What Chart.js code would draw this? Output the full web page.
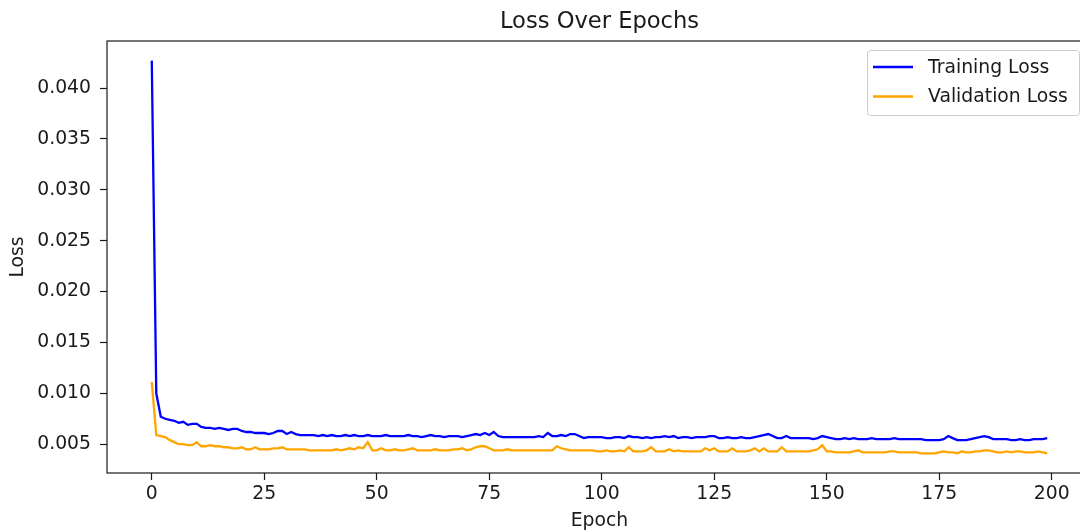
<!DOCTYPE html>
<html>
<head>
<meta charset="utf-8">
<script src="https://cdn.jsdelivr.net/npm/chart.js@4"></script>
<style>
  html,body{margin:0;padding:0;background:#fff;overflow:hidden;}
  #wrap{width:1080px;height:531px;overflow:hidden;position:relative;}
  #wrap canvas{position:absolute;left:0;top:0;}
</style>
</head>
<body>
<div id="wrap"><canvas id="ch" width="1100" height="531"></canvas></div>
<script>
const titleText = 'Loss Over Epochs';
const xLabel = 'Epoch';
const yLabel = 'Loss';
const seriesNames = ['Training Loss', 'Validation Loss'];
const seriesColors = ['#0000ff', '#ffa500'];
const xTicks = [0, 25, 50, 75, 100, 125, 150, 175, 200];
const yTicks = [0.005, 0.010, 0.015, 0.020, 0.025, 0.030, 0.035, 0.040];

const trainLoss = [
  0.0427, 0.0100, 0.0077, 0.0075, 0.0074, 0.0073, 0.0071, 0.0072, 0.0069, 0.0070,
  0.0070, 0.0067, 0.0066, 0.0066, 0.0065, 0.0066, 0.0065, 0.0064, 0.0065, 0.0065,
  0.0063, 0.0062, 0.0062, 0.0061, 0.0061, 0.0061, 0.0060, 0.0061, 0.0063, 0.0063,
  0.0060, 0.0062, 0.0060, 0.0059, 0.0059, 0.0059, 0.0059, 0.0058, 0.0059, 0.0058,
  0.0059, 0.0058, 0.0058, 0.0059, 0.0058, 0.0059, 0.0058, 0.0058, 0.0059, 0.0058,
  0.0058, 0.0058, 0.0059, 0.0058, 0.0058, 0.0058, 0.0058, 0.0059, 0.0058, 0.0058,
  0.0057, 0.0058, 0.0059, 0.0058, 0.0058, 0.0057, 0.0058, 0.0058, 0.0058, 0.0057,
  0.0058, 0.0059, 0.0060, 0.0059, 0.0061, 0.0059, 0.0062, 0.0058, 0.0057, 0.0057,
  0.0057, 0.0057, 0.0057, 0.0057, 0.0057, 0.0057, 0.0058, 0.0057, 0.0061, 0.0058,
  0.0058, 0.0059, 0.0058, 0.0060, 0.0060, 0.0058, 0.0056, 0.0057, 0.0057, 0.0057,
  0.0057, 0.0056, 0.0056, 0.0057, 0.0057, 0.0056, 0.0058, 0.0057, 0.0057, 0.0056,
  0.0057, 0.0056, 0.0057, 0.0057, 0.0058, 0.0057, 0.0058, 0.0056, 0.0057, 0.0057,
  0.0056, 0.0057, 0.0057, 0.0057, 0.0058, 0.0058, 0.0056, 0.0056, 0.0057, 0.0056,
  0.0056, 0.0057, 0.0056, 0.0056, 0.0057, 0.0058, 0.0059, 0.0060, 0.0058, 0.0056,
  0.0056, 0.0058, 0.0056, 0.0056, 0.0056, 0.0056, 0.0056, 0.0055, 0.0056, 0.0058,
  0.0057, 0.0056, 0.0055, 0.0055, 0.0056, 0.0055, 0.0056, 0.0055, 0.0055, 0.0055,
  0.0056, 0.0055, 0.0055, 0.0055, 0.0055, 0.0056, 0.0055, 0.0055, 0.0055, 0.0055,
  0.0055, 0.0055, 0.0054, 0.0054, 0.0054, 0.0054, 0.0055, 0.0058, 0.0056, 0.0054,
  0.0054, 0.0054, 0.0055, 0.0056, 0.0057, 0.0058, 0.0057, 0.0055, 0.0055, 0.0055,
  0.0055, 0.0054, 0.0054, 0.0055, 0.0054, 0.0054, 0.0055, 0.0055, 0.0055, 0.0056
];

const valLoss = [
  0.0111, 0.0059, 0.0058, 0.0057, 0.0054, 0.0052, 0.0050, 0.0050, 0.0049, 0.0049,
  0.0052, 0.0048, 0.0048, 0.0049, 0.0048, 0.0048, 0.0047, 0.0047, 0.0046, 0.0046,
  0.0047, 0.0045, 0.0045, 0.0047, 0.0045, 0.0045, 0.0045, 0.0046, 0.0046, 0.0047,
  0.0045, 0.0045, 0.0045, 0.0045, 0.0045, 0.0044, 0.0044, 0.0044, 0.0044, 0.0044,
  0.0044, 0.0045, 0.0044, 0.0045, 0.0046, 0.0045, 0.0047, 0.0046, 0.0052, 0.0044,
  0.0044, 0.0046, 0.0044, 0.0044, 0.0045, 0.0044, 0.0044, 0.0045, 0.0046, 0.0044,
  0.0044, 0.0044, 0.0044, 0.0045, 0.0044, 0.0044, 0.0044, 0.0045, 0.0045, 0.0046,
  0.0044, 0.0045, 0.0047, 0.0048, 0.0048, 0.0046, 0.0044, 0.0044, 0.0044, 0.0045,
  0.0044, 0.0044, 0.0044, 0.0044, 0.0044, 0.0044, 0.0044, 0.0044, 0.0044, 0.0044,
  0.0048, 0.0046, 0.0045, 0.0044, 0.0044, 0.0044, 0.0044, 0.0044, 0.0044, 0.0043,
  0.0043, 0.0044, 0.0043, 0.0043, 0.0044, 0.0043, 0.0047, 0.0043, 0.0043, 0.0043,
  0.0044, 0.0047, 0.0043, 0.0043, 0.0043, 0.0045, 0.0043, 0.0044, 0.0043, 0.0043,
  0.0043, 0.0043, 0.0043, 0.0046, 0.0044, 0.0046, 0.0043, 0.0043, 0.0043, 0.0046,
  0.0043, 0.0043, 0.0043, 0.0044, 0.0046, 0.0043, 0.0046, 0.0043, 0.0043, 0.0043,
  0.0047, 0.0043, 0.0043, 0.0043, 0.0043, 0.0043, 0.0043, 0.0044, 0.0045, 0.0049,
  0.0043, 0.0043, 0.0042, 0.0042, 0.0042, 0.0042, 0.0043, 0.0044, 0.0042, 0.0042,
  0.0042, 0.0042, 0.0042, 0.0042, 0.0043, 0.0043, 0.0042, 0.0042, 0.0042, 0.0042,
  0.0042, 0.0041, 0.0041, 0.0041, 0.0041, 0.0042, 0.0043, 0.0042, 0.0042, 0.0041,
  0.0043, 0.0042, 0.0042, 0.0043, 0.0043, 0.0044, 0.0044, 0.0043, 0.0042, 0.0042,
  0.0043, 0.0042, 0.0043, 0.0043, 0.0042, 0.0042, 0.0042, 0.0043, 0.0042, 0.0041
];

const epochs = trainLoss.map((_, i) => i);

// matplotlib-style 5% margins
function padRange(lo, hi){ const m = (hi - lo) * 0.05; return [lo - m, hi + m]; }
const [xMin, xMax] = padRange(0, epochs.length - 1);
const allVals = trainLoss.concat(valLoss);
const [yMin, yMax] = padRange(Math.min(...allVals), Math.max(...allVals));

const FONT = 'DejaVu Sans';
const INK = '#1a1a1a';
const FS = 18.8;

const framePlugin = {
  id: 'frame',
  afterDraw(chart){
    const { ctx, chartArea: a } = chart;
    ctx.save();
    // axes box
    ctx.strokeStyle = INK;
    ctx.lineWidth = 1.2;
    ctx.strokeRect(a.left, a.top, a.right - a.left, a.bottom - a.top);
    // title
    ctx.fillStyle = INK;
    ctx.font = `22.6px "${FONT}"`;
    ctx.textAlign = 'center';
    ctx.textBaseline = 'alphabetic';
    ctx.fillText(titleText, (a.left + a.right) / 2, 28);
    // legend
    const lx = 867, ly = 50, lw = 212, lh = 65;
    ctx.fillStyle = 'rgba(255,255,255,0.8)';
    ctx.strokeStyle = '#cccccc';
    ctx.lineWidth = 1;
    ctx.beginPath();
    ctx.roundRect(lx + 0.5, ly + 0.5, lw, lh, 3);
    ctx.fill();
    ctx.stroke();
    ctx.font = `${FS}px "${FONT}"`;
    ctx.textAlign = 'left';
    ctx.textBaseline = 'middle';
    chart.data.datasets.forEach((ds, i) => {
      const y = 67 + i * 29.5;
      ctx.strokeStyle = ds.borderColor;
      ctx.lineWidth = 2.3;
      ctx.beginPath();
      ctx.moveTo(873, y);
      ctx.lineTo(913, y);
      ctx.stroke();
      ctx.fillStyle = INK;
      ctx.fillText(ds.label, 928, y + 1);
    });
    ctx.restore();
  }
};

new Chart(document.getElementById('ch'), {
  type: 'line',
  data: {
    datasets: [
      { label: seriesNames[0], data: epochs.map((e, i) => ({ x: e, y: trainLoss[i] })), borderColor: seriesColors[0], borderWidth: 2.3, pointRadius: 0, tension: 0 },
      { label: seriesNames[1], data: epochs.map((e, i) => ({ x: e, y: valLoss[i] })), borderColor: seriesColors[1], borderWidth: 2.3, pointRadius: 0, tension: 0 }
    ]
  },
  options: {
    responsive: false,
    animation: false,
    layout: { padding: { left: 0, right: 8, top: 41, bottom: 0 } },
    plugins: { legend: { display: false }, title: { display: false }, tooltip: { enabled: false } },
    scales: {
      x: {
        type: 'linear', min: xMin, max: xMax,
        afterBuildTicks: s => { s.ticks = xTicks.map(v => ({ value: v })); },
        afterFit: s => { s.height = 58; },
        grid: { drawOnChartArea: false, drawTicks: true, tickLength: 7, tickColor: INK, tickWidth: 1.2 },
        border: { display: false },
        ticks: { color: INK, font: { family: FONT, size: FS }, padding: 3, maxRotation: 0, callback: v => String(v) },
        title: { display: true, text: xLabel, color: INK, font: { family: FONT, size: FS, lineHeight: 1.1 }, padding: { top: 0, bottom: 0 } }
      },
      y: {
        type: 'linear', min: yMin, max: yMax,
        afterBuildTicks: s => { s.ticks = yTicks.map(v => ({ value: v })); },
        afterFit: s => { s.width = 107; },
        grid: { drawOnChartArea: false, drawTicks: true, tickLength: 7, tickColor: INK, tickWidth: 1.2 },
        border: { display: false },
        ticks: { color: INK, font: { family: FONT, size: FS }, padding: 9, callback: v => v.toFixed(3) },
        title: { display: true, text: yLabel, color: INK, font: { family: FONT, size: FS, lineHeight: 1.2 }, padding: { top: 7, bottom: 0 } }
      }
    }
  },
  plugins: [framePlugin]
});
</script>
</body>
</html>
